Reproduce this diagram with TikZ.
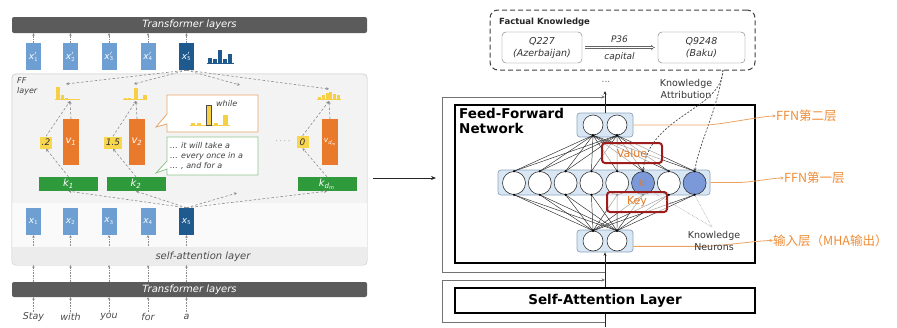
\documentclass[tikz,border=0pt]{standalone}
\usepackage{fontspec}
\setmainfont{DejaVu Sans}
\newfontfamily\cjk{Noto Sans CJK SC}
\usetikzlibrary{arrows.meta,calc}

\definecolor{barGray}{HTML}{5B5B5B}
\definecolor{tokBlue}{HTML}{6E9FD2}
\definecolor{tokDark}{HTML}{1F5A8E}
\definecolor{valOrange}{HTML}{E9792B}
\definecolor{histYellow}{HTML}{F6CF45}
\definecolor{scoreYellow}{HTML}{F8D64E}
\definecolor{keyGreen}{HTML}{2F9A3B}
\definecolor{panelGray}{HTML}{F3F3F3}
\definecolor{bandGray}{HTML}{ECECEC}
\definecolor{panelEdge}{HTML}{CFCFCF}
\definecolor{linkGray}{HTML}{8C8C8C}
\definecolor{callOrange}{HTML}{E8A66A}
\definecolor{callGreen}{HTML}{8DC58D}
\definecolor{layerBlue}{HTML}{D9E7F5}
\definecolor{layerEdge}{HTML}{8DA3BC}
\definecolor{neuronBlue}{HTML}{7B98D9}
\definecolor{kvRed}{HTML}{9E1C1C}
\definecolor{noteOrange}{HTML}{EE8B34}
\definecolor{kvText}{HTML}{E57A25}
\definecolor{noteLine}{HTML}{E9A463}

\newcommand\tokx[2]{{\itshape x}$^{#1}_{\mathsf{#2}}$}

\begin{document}
\begin{tikzpicture}[x=1pt,y=-1pt,
  every node/.style={inner sep=0pt},
  trbar/.style={fill=barGray, rounded corners=2pt, text=white, font=\fontsize{10}{10}\selectfont\itshape},
  tok/.style={fill=tokBlue, minimum width=15, minimum height=27, text=white, font=\fontsize{9}{9}\selectfont},
  tokhi/.style={tok, fill=tokDark},
  valbox/.style={fill=valOrange, minimum width=16, minimum height=46, text=white, font=\fontsize{10}{10}\selectfont\itshape},
  keybox/.style={fill=keyGreen, minimum width=59, minimum height=14, text=white, font=\fontsize{10}{10}\selectfont\itshape},
  score/.style={fill=scoreYellow, minimum height=12, minimum width=12, inner xsep=2pt, text=black!80, font=\fontsize{9}{9}\selectfont\itshape},
  smallarrow/.style={densely dotted, draw=linkGray, line width=0.6pt, -{Stealth[length=2.5pt,width=2.5pt]}},
  link/.style={dash pattern=on 2.5pt off 2pt, draw=linkGray, line width=0.6pt, -{Stealth[length=3pt,width=3pt]}},
  note/.style={font=\fontsize{8}{10}\selectfont\itshape, align=left, text=black!75},
  word/.style={font=\fontsize{9.5}{9.5}\selectfont\itshape, text=black!70},
  layerbox/.style={draw=layerEdge, fill=layerBlue, rounded corners=3pt, line width=0.7pt},
  neuron/.style={circle, draw=black!80, fill=white, line width=0.6pt},
  kneuron/.style={neuron, fill=neuronBlue},
  net/.style={draw=black!85, line width=0.45pt},
  kvbox/.style={draw=kvRed, line width=2pt, rounded corners=3pt, minimum width=60, minimum height=20, fill=white, fill opacity=0.55, text opacity=1, text=kvText, font=\fontsize{11}{11}\selectfont},
  bigbox/.style={draw=black, line width=1.6pt},
  resid/.style={draw=black!55, line width=0.7pt},
  trunk/.style={draw=black!85, line width=0.7pt},
  attr/.style={draw=black!70, dash pattern=on 2pt off 1.5pt, line width=0.7pt, -{Stealth[length=3pt,width=3pt]}},
  pointer/.style={draw=black!45, densely dotted, line width=0.5pt},
  orangeline/.style={draw=noteLine, line width=0.8pt, -{Stealth[length=3.5pt,width=3pt]}},
  orangelabel/.style={anchor=west, text=noteOrange, font=\cjk\fontsize{12.5}{12.5}\selectfont},
  sanslabel/.style={font=\fontsize{9.5}{12}\selectfont, align=center, text=black!80}
]
\useasboundingbox (0,0) rectangle (897,327);

%% ---------------- left: FF layer as key-value memory ----------------
\node[trbar, minimum width=355, minimum height=16] (trtop) at (189.5,25) {Transformer layers};
\node[trbar, minimum width=355, minimum height=15] (trbot) at (189.5,289.5) {Transformer layers};

% grey panel with the lighter token band and the self-attention band
\node[draw=panelEdge, fill=panelGray, rounded corners=4pt, minimum width=355, minimum height=191] (panel) at (189.5,169.5) {};
\begin{scope}
  \clip[rounded corners=4pt] (panel.south west) rectangle (panel.north east);
  \fill[white!60!panelGray] (12,203) rectangle (367,247);
  \fill[bandGray] (12,247) rectangle (367,265);
\end{scope}
\draw[panelEdge, rounded corners=4pt] (panel.south west) rectangle (panel.north east);

\node[note, anchor=north west] (fflab) at (17,77) {FF\\layer};
\node[font=\fontsize{10}{10}\selectfont\itshape, text=black!70] (salab) at (203,256.5) {self-attention layer};

% output tokens
\node[tok]   (xt1) at (33.5,56.5)  {\tokx{\prime}{1}};
\node[tok]   (xt2) at (70.5,56.5)  {\tokx{\prime}{2}};
\node[tok]   (xt3) at (109,56.5)   {\tokx{\prime}{3}};
\node[tok]   (xt4) at (148,56.5)   {\tokx{\prime}{4}};
\node[tokhi] (xt5) at (186.5,56.5) {\tokx{\prime}{5}};

% input tokens
\node[tok]   (xb1) at (33.5,221.5)  {\tokx{}{1}};
\node[tok]   (xb2) at (70.5,221.5)  {\tokx{}{2}};
\node[tok]   (xb3) at (109,221.5)   {\tokx{}{3}};
\node[tok]   (xb4) at (148,221.5)   {\tokx{}{4}};
\node[tokhi] (xb5) at (186.5,221.5) {\tokx{}{5}};

% output distribution icon
\fill[tokDark] (207,63) rectangle (234,64.2);
\fill[tokDark] (208,58) rectangle (212,63);
\fill[tokDark] (213,59) rectangle (217,63);
\fill[tokDark] (218,50) rectangle (222,63);
\fill[tokDark] (223,59) rectangle (227,63);
\fill[tokDark] (228,54) rectangle (232,63);

% words
\node[word] (w1) at (33.5,316.5) {Stay};
\node[word] (w2) at (70.5,316.5) {with};
\node[word] (w3) at (109,316.5)  {you};
\node[word] (w4) at (148,316.5)  {for};
\node[word] (w5) at (186.5,316.5){a};

\coordinate (bandtop) at (0,246);
\foreach \i in {1,...,5}{
  \draw[smallarrow] (xt\i.north) -- (xt\i.north |- trtop.south);
  \draw[smallarrow] (xb\i.south |- bandtop) -- (xb\i.south);
  \draw[smallarrow] (xb\i |- trbot.north) -- (xb\i |- panel.south);
  \draw[smallarrow] (xb\i |- w1.north) -- (xb\i |- trbot.south);
}

% value vectors, keys and memory coefficients
\node[valbox] (v1) at (71,142)  {v\textsubscript{1}};
\node[valbox] (v2) at (137,142) {v\textsubscript{2}};
\node[valbox, font=\fontsize{7.5}{7.5}\selectfont\itshape] (vd) at (330,142) {v\textsubscript{d\textsubscript{m}}};
\node[keybox] (k1) at (68.5,184) {k\textsubscript{1}};
\node[keybox] (k2) at (136,184)  {k\textsubscript{2}};
\node[keybox] (kd) at (327,184)  {k\textsubscript{d\textsubscript{m}}};
\node[score] (s1) at (46,142.5)  {.2};
\node[score] (s2) at (113,142.5) {1.5};
\node[score] (s3) at (302.5,142) {0};
\node[font=\fontsize{9}{9}\selectfont, text=black!60] (dots) at (283,141) {$\cdot$\,$\cdot$\,$\cdot$\,$\cdot$};

% small yellow distributions above each value
\fill[histYellow] (55,99.2) rectangle (80,100.4);
\fill[histYellow] (56,87) rectangle (60,100);
\fill[histYellow] (61,95) rectangle (64,100);
\fill[histYellow] (65,97.5) rectangle (68,100);
\fill[histYellow] (123,99.2) rectangle (147,100.4);
\fill[histYellow] (124,97.5) rectangle (127,100);
\fill[histYellow] (128,98) rectangle (131,100);
\fill[histYellow] (134,88) rectangle (138,100);
\fill[histYellow] (143,95) rectangle (147,100);
\fill[histYellow] (317,99.2) rectangle (341,100.4);
\foreach \bx/\bh in {318/97, 321.8/95, 325.6/93, 329.4/92, 333.2/94, 337/95}
  \fill[histYellow] (\bx,\bh) rectangle (\bx+3,100);

\coordinate (h1) at (70,101);   \coordinate (h1t) at (66,84);
\coordinate (h2) at (136,101);  \coordinate (h2t) at (134,84);
\coordinate (h3) at (329,101);  \coordinate (h3t) at (329,89);
\coordinate (dtop) at (240,85); \coordinate (dbot) at (237,193);

% attention from x5 to the memories
\draw[link] (xt5.south) -- (h1t);
\draw[link] (xt5.south) -- (h2t);
\draw[link] (xt5.south) -- (dtop);
\draw[link] (xt5.south) -- (h3t);
\draw[link] (xb5.north) -- (k1.south);
\draw[link] (xb5.north) -- (k2.south);
\draw[link] (xb5.north) -- (dbot);
\draw[link] (xb5.north) -- (kd.south);

\draw[link] (k1.north) -- (s1.south);
\draw[link] (s1.north) -- (h1);
\draw[link] (v1.north) -- (h1);
\draw[link] (k2.north) -- (s2.south);
\draw[link] (s2.north) -- (h2);
\draw[link] (v2.north) -- (h2);
\draw[link] (kd.north) -- (s3.south);
\draw[link] (s3.north) -- (h3);
\draw[link] (vd.north) -- (h3);

% callouts
\draw[callOrange, fill=white, line width=0.8pt]
  (167,95) -- (258,95) -- (258,132) -- (167,132) -- (167,124) -- (156,127) -- (167,114) -- cycle;
\draw[callGreen, fill=white, line width=0.8pt]
  (167,137) -- (258,137) -- (258,175) -- (167,175) -- (167,169) -- (156,173) -- (167,161) -- cycle;
\fill[histYellow] (190,125) rectangle (230,126.2);
\fill[histYellow] (191,122.5) rectangle (195,125);
\fill[histYellow] (197,123) rectangle (201,125);
\fill[histYellow] (214,122.5) rectangle (218,125);
\fill[histYellow] (223,115) rectangle (228,125);
\draw[fill=histYellow, draw=black!70, line width=0.5pt] (206,105) rectangle (211,125);
\node[note, anchor=west] (while) at (216,104) {while};
\node[note, anchor=west] (ctx) at (170,156) {... it will take a\\... every once in a\\... , and for a};

%% ---------------- middle arrow ----------------
\coordinate (arrS) at (373,178);
\coordinate (arrE) at (436,178);
\draw[black!85, line width=0.8pt, -{Stealth[length=5pt,width=4pt]}] (arrS) -- (arrE);

%% ---------------- right: FFN with knowledge neurons ----------------
\node[draw=black!75, dash pattern=on 5pt off 3pt, line width=1pt, rounded corners=8pt, minimum width=265, minimum height=60] (fk) at (622.5,40) {};
\node[anchor=west, font=\fontsize{8.5}{8.5}\selectfont\bfseries, text=black!85] (fktitle) at (499,22.5) {Factual Knowledge};
\node[draw=black!55, rounded corners=4pt, minimum width=80, minimum height=31, align=center, font=\fontsize{9.5}{12}\selectfont\itshape, text=black!80] (q1) at (542,47.5) {Q227\\(Azerbaijan)};
\node[draw=black!55, rounded corners=4pt, minimum width=87, minimum height=31, align=center, font=\fontsize{9.5}{12}\selectfont\itshape, text=black!80] (q2) at (701.5,47.5) {Q9248\\(Baku)};
\draw[black!60, double, double distance=1.4pt, line width=0.5pt, -{Implies[length=4pt]}, shorten <=3pt, shorten >=3pt] (q1.east) -- (q2.west);
\node[font=\fontsize{9}{9}\selectfont\itshape, text=black!80] (rel) at (619.5,39) {P36};
\node[font=\fontsize{9}{9}\selectfont\itshape, text=black!80] (relname) at (619.5,57) {capital};

\node[font=\fontsize{9}{9}\selectfont, text=black!60] (more) at (606,82) {...};
\node[sanslabel] (kattr) at (686,89) {Knowledge\\Attribution};

% residual paths
\coordinate (tTop) at (605,91);
\coordinate (tBot) at (605,327);
\coordinate (r1a) at (605,272); \coordinate (r1b) at (442,272);
\coordinate (r1c) at (442,97);  \coordinate (r1d) at (605,97);
\coordinate (r2a) at (605,322); \coordinate (r2b) at (442,322);
\coordinate (r2c) at (442,280); \coordinate (r2d) at (605,280);
\draw[resid, -{Stealth[length=3.5pt,width=3pt]}] (r1a) -- (r1b) -- (r1c) -- (r1d);
\draw[resid, -{Stealth[length=3.5pt,width=3pt]}] (r2a) -- (r2b) -- (r2c) -- (r2d);

\node[bigbox, minimum width=300, minimum height=158] (ffn) at (605,184) {};
\node[bigbox, minimum width=300, minimum height=25, font=\fontsize{13.5}{13.5}\selectfont\bfseries] (sa) at (605,300.5) {Self-Attention Layer};
\node[anchor=north west, align=left, font=\fontsize{13.5}{15.5}\selectfont\bfseries] (ffntitle) at (459,108) {Feed-Forward\\Network};

% layers of neurons
\node[layerbox, minimum width=56, minimum height=24] (Ltop) at (605,125) {};
\node[layerbox, minimum width=212, minimum height=25] (Lmid) at (604,182.5) {};
\node[layerbox, minimum width=56, minimum height=22] (Lbot) at (605,241) {};

\node[neuron, minimum size=20] (t1) at (593,125) {};
\node[neuron, minimum size=20] (t2) at (617,125) {};
\node[neuron, minimum size=20] (b1) at (593,241) {};
\node[neuron, minimum size=20] (b2) at (617,241) {};
\foreach \i in {1,...,8}{
  \pgfmathsetmacro\nx{514+25.8*(\i-1)}
  \ifnum\i=6
    \node[kneuron, minimum size=23] (n\i) at (\nx,183) {};
  \else\ifnum\i=8
    \node[kneuron, minimum size=23] (n\i) at (\nx,183) {};
  \else
    \node[neuron, minimum size=23] (n\i) at (\nx,183) {};
  \fi\fi
}

\foreach \i in {1,...,8}{
  \foreach \j in {1,2}{
    \draw[net] (n\i.north) -- (t\j.south);
    \draw[net] (n\i.south) -- (b\j.north);
  }
  \fill[black] (n\i.north) circle (1.2);
  \fill[black] (n\i.south) circle (1.2);
}
\foreach \j in {1,2}{
  \fill[black] (t\j.south) circle (1.5);
  \fill[black] (b\j.north) circle (1.5);
}
\node[text=kvText, font=\fontsize{9.5}{9.5}\selectfont] (kilab) at (n6) {ki};

\node[kvbox] (val) at (632,153) {Value};
\node[kvbox] (key) at (637,202) {Key};

% main data path
\draw[trunk] (tBot) -- (sa.south);
\draw[trunk, -{Stealth[length=3.5pt,width=3pt]}] (sa.north) -- (Lbot.south);
\draw[trunk, -{Stealth[length=3.5pt,width=3pt]}] (Ltop.north) -- (tTop);

% knowledge attribution back to the neurons
\coordinate (ka0) at (723,70);
\draw[attr] (ka0) .. controls (716,115) and (700,140) .. (n8.north);
\draw[attr] (ka0) .. controls (722,110) and (650,115) .. (n6.north);

% knowledge neuron pointers
\coordinate (kn) at (712,227);
\draw[pointer] (kn) -- (n6.south east);
\draw[pointer] (kn) -- (n8.south);

% side notes
\node[orangelabel] (lab1) at (776,116) {FFN第二层};
\node[orangelabel] (lab2) at (784,178) {FFN第一层};
\node[orangelabel] (lab3) at (773,240.5) {输入层（MHA输出）};
\draw[orangeline] (Ltop.east) -- ++(72,0) .. controls +(14,0) and +(-14,0) .. (lab1.west);
\draw[orangeline] (Lmid.east) -- ++(28,0) .. controls +(12,0) and +(-12,0) .. (lab2.west);
\draw[orangeline] ($(Lbot.south east)+(0,-6)$) -- ++(70,0) .. controls +(14,0) and +(-14,0) .. (lab3.west);

\node[sanslabel] (knlab) at (714,241) {Knowledge\\Neurons};
\end{tikzpicture}
\end{document}
